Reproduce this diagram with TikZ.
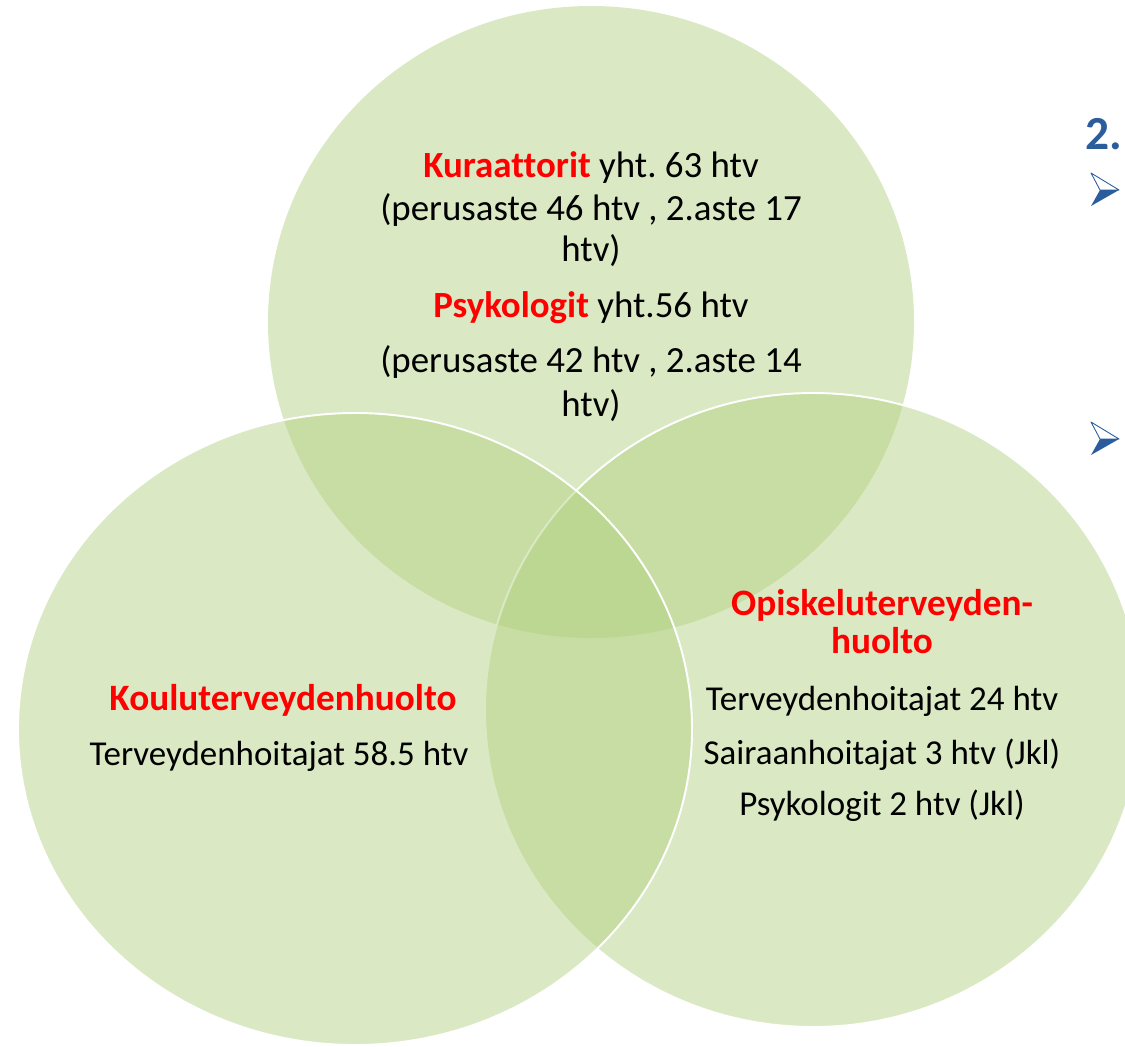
\documentclass[tikz,border=0pt]{standalone}
\usepackage{fontspec}
\setmainfont{Carlito}[Ligatures=NoCommon]
\usetikzlibrary{calc}

\definecolor{venngreen}{RGB}{175,207,125}
\definecolor{headred}{RGB}{255,0,0}
\definecolor{slideblue}{RGB}{43,92,156}
\newcommand{\redhead}[1]{\textcolor{headred}{\textbf{#1}}}
\frenchspacing

\begin{document}
\begin{tikzpicture}[
		x=0.02cm,y=-0.02cm,
		venn/.style={fill=venngreen,fill opacity=0.46,draw=white,line width=1.1pt},
		lbl/.style={inner sep=0,anchor=base,text=black,font=\fontsize{19.9}{24}\selectfont},
		toplbl/.style={lbl,font=\fontsize{21}{25}\selectfont},
		headlbl/.style={lbl,font=\fontsize{21.2}{25}\selectfont},
		numlbl/.style={inner sep=0,anchor=base west,text=slideblue,font=\fontsize{27}{32}\selectfont\bfseries}
		]
		\clip (0,0) rectangle (1125,1046);
		
		% the three sets, top one first
		\path[venn,draw=none] (591,322) ellipse [x radius=323,y radius=316];
		\path[venn] (813,710) ellipse [x radius=328,y radius=317];
		\path[venn] (355,729) ellipse [x radius=337,y radius=316];
		
		% top set
		\node[toplbl](kuraA) at (591,177){\redhead{Kuraattorit} yht. 63 htv};
		\node[toplbl](kuraB) at (591,220){(perusaste 46 htv , 2.aste 17};
		\node[toplbl](kuraC) at (591,261){htv)};
		\node[toplbl](psykA) at (591,317){\redhead{Psykologit} yht.56 htv};
		\node[toplbl](psykB) at (591,372){(perusaste 42 htv , 2.aste 14};
		\node[toplbl](psykC) at (591,416){htv)};
		
		% left set
		\node[headlbl](kouluHead) at (283,710){\redhead{Kouluterveydenhuolto}};
		\node[lbl](kouluA) at (279,765){Terveydenhoitajat 58.5 htv};
		
		% right set
		\node[headlbl](opisHeadA) at (882,615){\redhead{Opiskeluterveyden-}};
		\node[headlbl](opisHeadB) at (882,653){\redhead{huolto}};
		\node[lbl](opisA) at (882,710){Terveydenhoitajat 24 htv};
		\node[lbl](opisB) at (882,764){Sairaanhoitajat 3 htv (Jkl)};
		\node[lbl](opisC) at (882,815){Psykologit 2 htv (Jkl)};
		
		% cut off slide text on the right
		\node[numlbl](num) at (1085,149){2.};
		\foreach \yy in {190,439}{
			\fill[slideblue] (1100,\yy) -- (1119,\yy) -- (1091,\yy+16) -- cycle;
			\draw[slideblue,line width=0.5pt,line join=round] (1100,\yy) -- (1091,\yy-17) -- (1119,\yy) -- cycle;
		}
		
	\end{tikzpicture}
\end{document}
